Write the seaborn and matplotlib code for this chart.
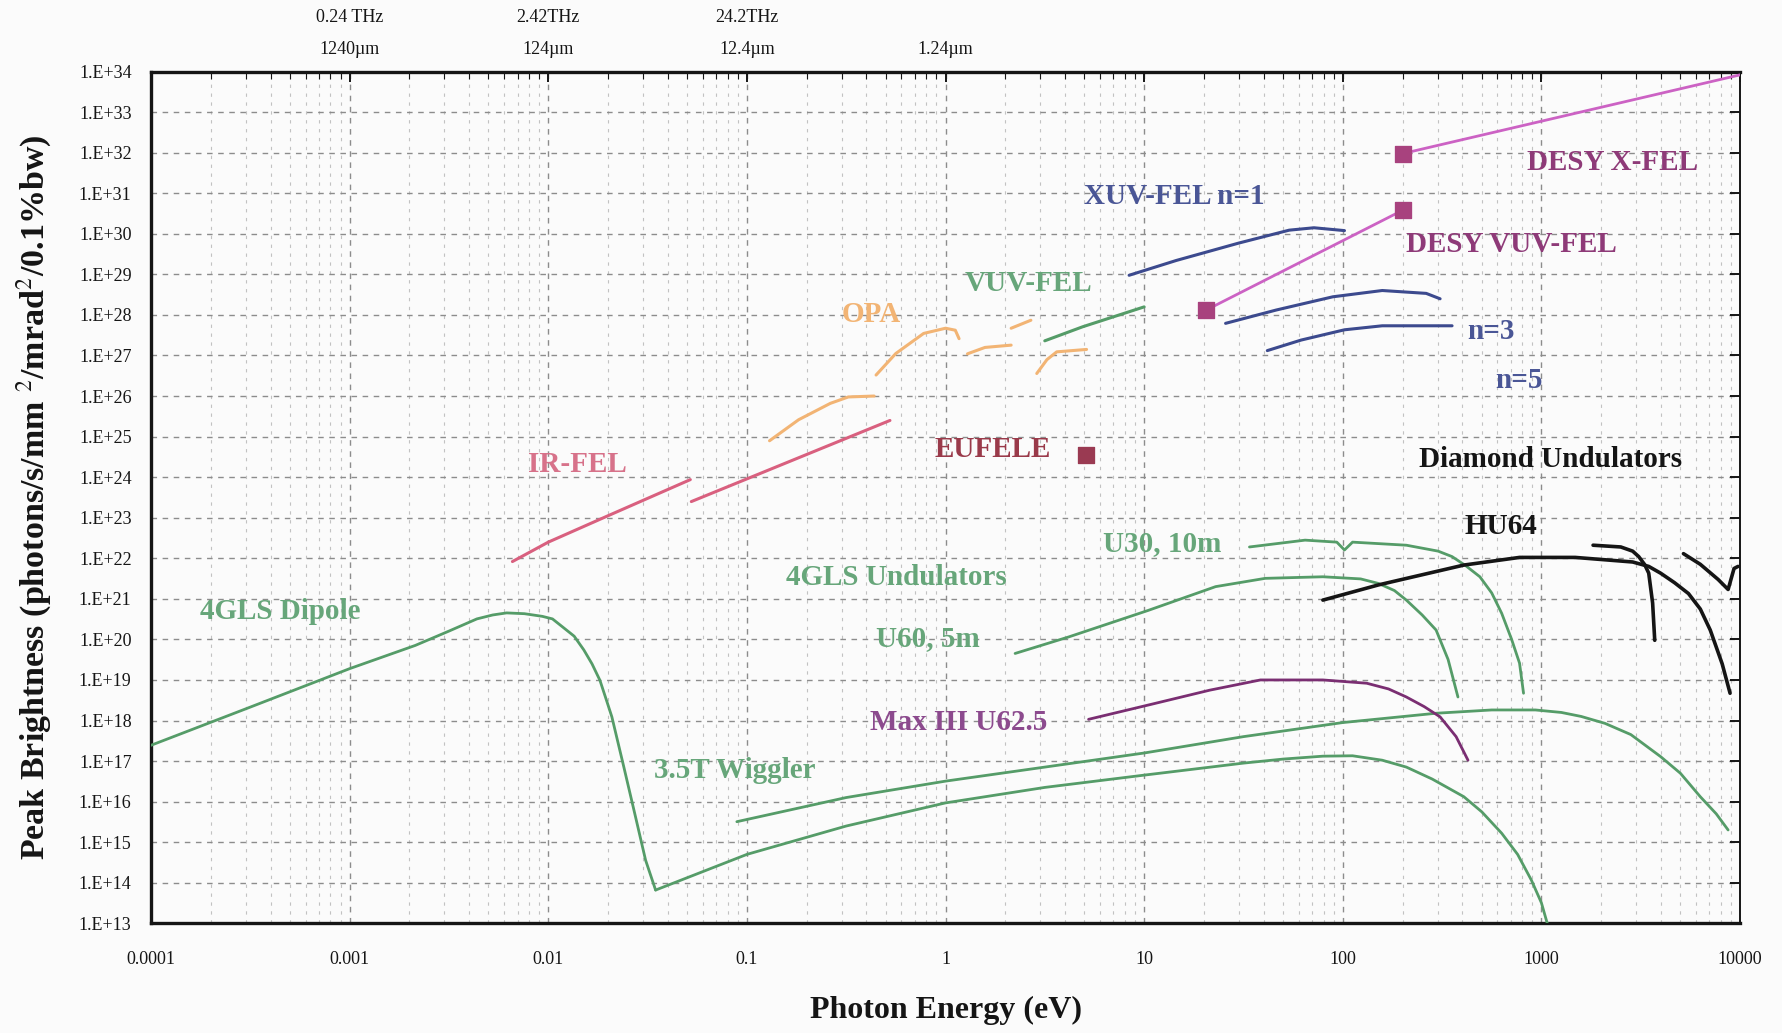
import matplotlib
matplotlib.use("Agg")
import numpy as np
import pandas as pd
import matplotlib.pyplot as plt
import seaborn as sns
from matplotlib.ticker import FixedLocator, FuncFormatter, NullFormatter
from matplotlib.transforms import blended_transform_factory

# ---------------- data: photon energy (eV) vs peak brightness ----------------
dipole_E = [1.0e-4, 3.16e-4, 1.0e-3, 2.14e-3, 3.16e-3, 4.37e-3, 5.25e-3, 6.17e-3,
            7.59e-3, 9.33e-3, 1.05e-2, 1.17e-2, 1.35e-2, 1.51e-2, 1.66e-2, 1.82e-2,
            1.95e-2, 2.09e-2, 2.40e-2, 2.75e-2, 3.09e-2, 3.47e-2]
dipole_B = [2.45e17, 2.14e18, 1.9e19, 7.1e19, 1.6e20, 3.2e20, 4.0e20, 4.5e20,
            4.3e20, 3.7e20, 3.2e20, 2.1e20, 1.2e20, 5.5e19, 2.5e19, 9.8e18,
            3.5e18, 1.23e18, 7.2e16, 4.2e15, 3.6e14, 6.6e13]

wiggler_low_E = [3.47e-2, 0.1, 0.316, 1.0, 3.16, 10, 31.6, 50.1, 79.4, 112, 158,
                 209, 282, 407, 501, 631, 759, 891, 1000, 1070]
wiggler_low_B = [6.6e13, 5.0e14, 2.5e15, 9.3e15, 2.24e16, 4.5e16, 8.9e16, 1.12e17,
                 1.32e17, 1.35e17, 1.05e17, 7.1e16, 3.6e16, 1.32e16, 5.6e15, 1.66e15,
                 5.0e14, 1.15e14, 3.2e13, 1.0e13]

wiggler_high_E = [8.9e-2, 0.316, 1.0, 3.16, 10, 31.6, 100, 295, 562, 933, 1260, 1585,
                  2090, 2820, 3980, 5010, 6310, 7590, 8710]
wiggler_high_B = [3.2e15, 1.26e16, 3.2e16, 7.1e16, 1.58e17, 4.0e17, 8.9e17, 1.51e18,
                  1.82e18, 1.82e18, 1.58e18, 1.26e18, 8.5e17, 4.5e17, 1.29e17,
                  5.0e16, 1.32e16, 5.0e15, 2.0e15]

max3_E = [5.25, 11.2, 21.4, 38.5, 79.4, 132, 170, 209, 257, 309, 372, 427]
max3_B = [1.07e18, 2.6e18, 5.6e18, 1.0e19, 1.0e19, 8.3e18, 6.0e18, 3.8e18,
          2.2e18, 1.23e18, 4.0e17, 1.05e17]

u60_E = [2.24, 4.17, 10.5, 22.9, 40.7, 79.4, 123, 151, 182, 209, 251, 295, 339, 380]
u60_B = [4.5e19, 1.15e20, 5.2e20, 2.0e21, 3.2e21, 3.5e21, 3.1e21, 2.4e21, 1.6e21,
         9.3e20, 4.0e20, 1.7e20, 3.2e19, 3.8e18]

u30_E = [33.9, 64.6, 93.3, 102, 112, 209, 302, 355, 417, 490, 562, 631, 708, 776, 813]
u30_B = [1.9e22, 2.8e22, 2.5e22, 1.6e22, 2.5e22, 2.1e22, 1.5e22, 1.1e22, 6.5e21,
         3.5e21, 1.4e21, 4.4e20, 1.0e20, 2.6e19, 4.7e18]

hu64_E = [79.4, 151, 407, 776, 1480, 2880, 3470, 3980, 4680, 5500, 6310, 7080, 8130, 8910]
hu64_B = [9.3e20, 2.2e21, 6.8e21, 1.05e22, 1.05e22, 8.1e21, 6.3e21, 4.3e21, 2.5e21,
          1.35e21, 5.6e20, 1.7e20, 2.5e19, 4.7e18]

diamond_a_E = [1820, 2510, 2880, 3090, 3310, 3470, 3630, 3720]
diamond_a_B = [2.1e22, 1.9e22, 1.5e22, 1.1e22, 7.0e21, 4.3e21, 7.9e20, 9.5e19]
diamond_b_E = [5190, 6310, 7760, 8710, 9330, 9770]
diamond_b_B = [1.3e22, 7.1e21, 3.0e21, 1.7e21, 5.6e21, 6.3e21]

irfel_a_E = [6.6e-3, 1.0e-2, 2.0e-2, 5.19e-2]
irfel_a_B = [8.3e21, 2.5e22, 1.12e23, 8.7e23]
irfel_b_E = [5.25e-2, 0.525]
irfel_b_B = [2.5e23, 2.5e25]

opa_a_E = [0.13, 0.182, 0.263, 0.324, 0.437]
opa_a_B = [7.9e24, 2.6e25, 6.6e25, 9.5e25, 1.0e26]
opa_b_E = [0.447, 0.562, 0.776, 1.0, 1.12, 1.17]
opa_b_B = [3.3e26, 1.12e27, 3.5e27, 4.7e27, 4.2e27, 2.6e27]
opa_c_E = [1.29, 1.58, 2.14]
opa_c_B = [1.1e27, 1.58e27, 1.8e27]
opa_d_E = [2.14, 2.69]
opa_d_B = [4.7e27, 7.4e27]
opa_e_E = [2.88, 3.24, 3.63, 5.13]
opa_e_B = [3.6e26, 7.9e26, 1.23e27, 1.41e27]

vuvfel_E = [3.16, 4.9, 10.0]
vuvfel_B = [2.3e27, 5.1e27, 1.58e28]

xuv_n1_E = [8.4, 14.5, 29.9, 53.7, 71.6, 102]
xuv_n1_B = [9.5e28, 2.2e29, 5.9e29, 1.23e30, 1.41e30, 1.2e30]
xuv_n3_E = [25.7, 46.2, 89.1, 158, 263, 309]
xuv_n3_B = [6.2e27, 1.32e28, 2.8e28, 4.0e28, 3.4e28, 2.5e28]
xuv_n5_E = [41.7, 61.7, 102, 158, 355]
xuv_n5_B = [1.32e27, 2.4e27, 4.3e27, 5.4e27, 5.4e27]

desy_vuv_E = [20.4, 200]
desy_vuv_B = [1.3e28, 3.8e30]
desy_x_E = [200, 1.0e4]
desy_x_B = [9.5e31, 8.3e33]

eufele_E = [5.1]
eufele_B = [3.5e24]

x_tick_values = [1e-4, 1e-3, 1e-2, 1e-1, 1, 10, 100, 1000, 10000]
x_tick_labels = ["0.0001", "0.001", "0.01", "0.1", "1", "10", "100", "1000", "10000"]
y_exponents = list(range(13, 35))
top_freq_labels = ["0.24 THz", "2.42THz", "24.2THz"]
top_freq_E = [1e-3, 1e-2, 1e-1]
top_wave_labels = ["1240\u00b5m", "124\u00b5m", "12.4\u00b5m", "1.24\u00b5m"]
top_wave_E = [1e-3, 1e-2, 1e-1, 1.0]

# ---------------- styling ----------------
GREEN = "#559c68"
GREEN_TXT = "#67a67a"
PINK = "#d9607f"
PINK_TXT = "#d7728a"
ORANGE = "#f2b474"
BLUE = "#3c4a8e"
BLUE_TXT = "#4a5696"
MAGENTA = "#cc62c4"
DESY_SQ = "#a8427e"
DESY_TXT = "#8e3a78"
MAX3 = "#7a2e72"
MAX3_TXT = "#8c4a8e"
EUF_TXT = "#9a3a4a"
BLACK = "#151515"

sns.set_theme(style="white")
plt.rcParams["font.family"] = ["Liberation Serif", "DejaVu Serif"]
plt.rcParams["mathtext.fontset"] = "stix"

fig = plt.figure(figsize=(17.83, 10.33), dpi=100, facecolor="#fbfbfb")
ax = fig.add_axes([0.0847, 0.1062, 0.8912, 0.8245])
ax.set_facecolor("#fbfbfb")

curves = [
    (dipole_E, dipole_B, GREEN, 2.0),
    (wiggler_low_E, wiggler_low_B, GREEN, 2.0),
    (wiggler_high_E, wiggler_high_B, GREEN, 2.0),
    (u60_E, u60_B, GREEN, 2.0),
    (u30_E, u30_B, GREEN, 2.0),
    (max3_E, max3_B, MAX3, 2.0),
    (hu64_E, hu64_B, BLACK, 2.6),
    (diamond_a_E, diamond_a_B, BLACK, 2.6),
    (diamond_b_E, diamond_b_B, BLACK, 2.6),
    (irfel_a_E, irfel_a_B, PINK, 2.2),
    (irfel_b_E, irfel_b_B, PINK, 2.2),
    (opa_a_E, opa_a_B, ORANGE, 2.2),
    (opa_b_E, opa_b_B, ORANGE, 2.2),
    (opa_c_E, opa_c_B, ORANGE, 2.2),
    (opa_d_E, opa_d_B, ORANGE, 2.2),
    (opa_e_E, opa_e_B, ORANGE, 2.2),
    (vuvfel_E, vuvfel_B, GREEN, 2.2),
    (xuv_n1_E, xuv_n1_B, BLUE, 2.2),
    (xuv_n3_E, xuv_n3_B, BLUE, 2.2),
    (xuv_n5_E, xuv_n5_B, BLUE, 2.2),
    (desy_vuv_E, desy_vuv_B, MAGENTA, 2.0),
    (desy_x_E, desy_x_B, MAGENTA, 2.0),
]

ax.set_xscale("log")
ax.set_yscale("log")

for E, B, col, lw in curves:
    df = pd.DataFrame({"E": E, "B": B})
    sns.lineplot(data=df, x="E", y="B", ax=ax, color=col, lw=lw,
                 sort=False, estimator=None, zorder=3)

# square markers for the single-pass FEL facilities
squares = pd.DataFrame({
    "E": [desy_vuv_E[0], desy_vuv_E[1], desy_x_E[0], eufele_E[0]],
    "B": [desy_vuv_B[0], desy_vuv_B[1], desy_x_B[0], eufele_B[0]],
    "c": [DESY_SQ, DESY_SQ, DESY_SQ, "#9a3a52"],
})
for _, r in squares.iterrows():
    sns.scatterplot(x=[r.E], y=[r.B], ax=ax, marker="s", s=140, color=r.c,
                    edgecolor=r.c, zorder=4)

ax.set_xlim(1e-4, 1e4)
ax.set_ylim(1e13, 1e34)

# axes ticks and grid
ax.xaxis.set_major_locator(FixedLocator(x_tick_values))
ax.xaxis.set_major_formatter(FuncFormatter(lambda v, p: x_tick_labels[x_tick_values.index(v)]
                                           if v in x_tick_values else ""))
minor_x = [m * 10.0 ** k for k in range(-4, 4) for m in range(2, 10)]
ax.xaxis.set_minor_locator(FixedLocator(minor_x))
ax.xaxis.set_minor_formatter(NullFormatter())
ax.yaxis.set_major_locator(FixedLocator([10.0 ** e for e in y_exponents]))
ax.yaxis.set_major_formatter(FuncFormatter(lambda v, p: "1.E+%d" % int(round(np.log10(v)))))
ax.yaxis.set_minor_locator(FixedLocator([]))

ax.tick_params(axis="both", which="both", direction="in", top=True, right=True,
               colors=BLACK)
ax.tick_params(axis="x", which="major", length=7, width=1.4, labelsize=13, pad=20)
ax.tick_params(axis="x", which="minor", length=5, width=0.8)
ax.tick_params(axis="y", which="major", length=7, width=1.4, labelsize=13, pad=14)

ax.grid(True, which="major", axis="both", color="#8c8c8c", linestyle=(0, (4, 4)), lw=1.0)
ax.grid(True, which="minor", axis="x", color="#c2c2c2", linestyle=(0, (3, 5)), lw=0.8)
ax.set_axisbelow(True)

for side, sp in ax.spines.items():
    sp.set_visible(True)
    sp.set_color(BLACK)
    sp.set_linewidth(2.4 if side in ("left", "bottom", "top") else 1.4)

ax.set_xlabel("Photon Energy (eV)", fontsize=23, fontweight="bold", color=BLACK)
ax.xaxis.set_label_coords(0.5, -0.085)
ax.set_ylabel("Peak Brightness (photons/s/mm $^{2}$/mrad$^{2}$/0.1%bw)",
              fontsize=24.5, fontweight="bold", color=BLACK)
ax.yaxis.set_label_coords(-0.062, 0.5)

# secondary scale labels above the frame
top_tr = blended_transform_factory(ax.transData, ax.transAxes)
for E, lab in zip(top_freq_E, top_freq_labels):
    ax.text(E, 1.064, lab, transform=top_tr, ha="center", va="center",
            fontsize=13, color=BLACK)
for E, lab in zip(top_wave_E, top_wave_labels):
    ax.text(E, 1.0255, lab, transform=top_tr, ha="center", va="center",
            fontsize=13, color=BLACK)

# curve annotations (energy, brightness of the left edge of each label)
annotations = [
    ("DESY X-FEL", 850, 5.8e31, DESY_TXT),
    ("XUV-FEL n=1", 4.97, 8.3e30, BLUE_TXT),
    ("DESY VUV-FEL", 209, 5.5e29, DESY_TXT),
    ("VUV-FEL", 1.245, 5.8e28, GREEN_TXT),
    ("OPA", 0.30, 1.0e28, ORANGE),
    ("n=3", 424, 3.8e27, BLUE_TXT),
    ("n=5", 589, 2.35e26, BLUE_TXT),
    ("EUFELE", 0.883, 4.9e24, EUF_TXT),
    ("Diamond Undulators", 243, 2.75e24, BLACK),
    ("IR-FEL", 7.9e-3, 2.1e24, PINK_TXT),
    ("HU64", 412, 6.2e22, BLACK),
    ("U30, 10m", 6.22, 2.35e22, GREEN_TXT),
    ("4GLS Undulators", 0.158, 3.3e21, GREEN_TXT),
    ("4GLS Dipole", 1.76e-4, 4.8e20, GREEN_TXT),
    ("U60, 5m", 0.445, 1.02e20, GREEN_TXT),
    ("Max III U62.5", 0.417, 9.1e17, MAX3_TXT),
    ("3.5T Wiggler", 3.39e-2, 5.75e16, GREEN_TXT),
]
for text, E, B, col in annotations:
    ax.text(E, B, text, ha="left", va="center", fontsize=21, fontweight="bold",
            color=col, zorder=5)

fig.savefig("out.png", dpi=100, facecolor=fig.get_facecolor())
